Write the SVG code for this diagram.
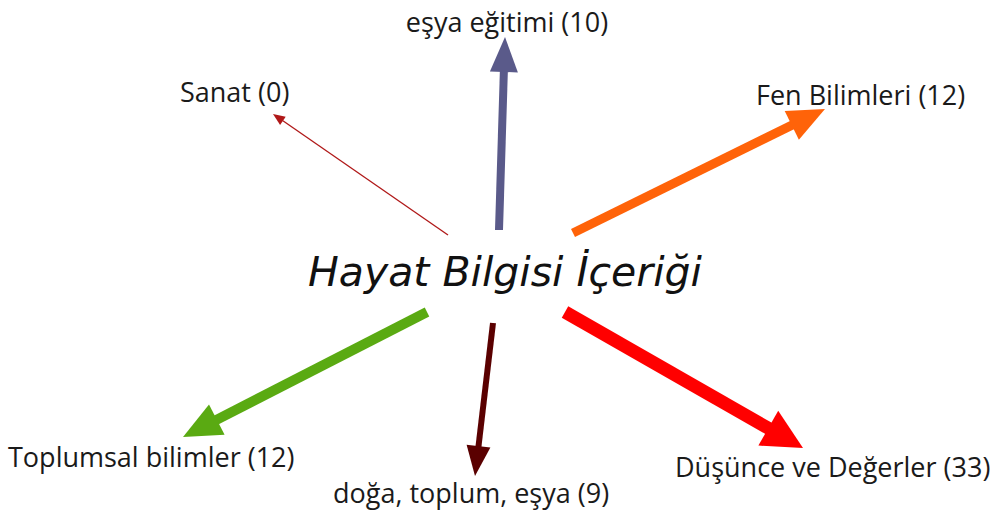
<svg xmlns="http://www.w3.org/2000/svg" width="993" height="516" viewBox="0 0 993 516">
<style>
.lbl{font-family:"Open Sans","Noto Sans",sans-serif;font-size:27px;fill:#1a1a1a}
.title{font-family:"DejaVu Sans","Noto Sans",sans-serif;font-style:italic;font-size:40px;fill:#111}
</style>
<rect width="993" height="516" fill="#ffffff"/>
<g id="connectors">
  <g id="arrow-sanat" fill="#b01818">
    <line x1="448" y1="235" x2="282.9" y2="120.8" stroke="#b01818" stroke-width="1.3"/>
    <polygon points="273,114 285.7,116.7 280.1,124.9"/>
  </g>
  <g id="arrow-esya" fill="#5a5a8a">
    <line x1="499" y1="230" x2="503.9" y2="70" stroke="#5a5a8a" stroke-width="8"/>
    <polygon points="505,37 517.9,72.4 489.9,71.6"/>
  </g>
  <g id="arrow-fen" fill="#ff6309">
    <line x1="573" y1="233" x2="793" y2="124.6" stroke="#ff6309" stroke-width="9"/>
    <polygon points="825,109 798.9,139.7 784.7,111"/>
  </g>
  <g id="arrow-toplumsal" fill="#5aaa12">
    <line x1="427" y1="312" x2="215" y2="420.6" stroke="#5aaa12" stroke-width="10"/>
    <polygon points="183,437 224.6,434.8 209,404.6"/>
  </g>
  <g id="arrow-doga" fill="#5a0000">
    <line x1="493" y1="323" x2="478.3" y2="448" stroke="#5a0000" stroke-width="6"/>
    <polygon points="475,476 490.4,447.6 466.6,444.8"/>
  </g>
  <g id="arrow-dusunce" fill="#ff0000">
    <line x1="565" y1="312" x2="770" y2="429.2" stroke="#ff0000" stroke-width="13"/>
    <polygon points="803,448 758.4,445.6 778.2,410.8"/>
  </g>
</g>
<g id="node-center"><text class="title" x="505" y="286" text-anchor="middle" textLength="394" lengthAdjust="spacingAndGlyphs">Hayat Bilgisi İçeriği</text></g>
<g id="node-esya"><text class="lbl" x="507" y="32" text-anchor="middle">eşya eğitimi (10)</text></g>
<g id="node-sanat"><text class="lbl" x="180" y="102">Sanat (0)</text></g>
<g id="node-fen"><text class="lbl" x="756" y="105">Fen Bilimleri (12)</text></g>
<g id="node-toplumsal"><text class="lbl" x="8" y="467">Toplumsal bilimler (12)</text></g>
<g id="node-doga"><text class="lbl" x="333" y="503">doğa, toplum, eşya (9)</text></g>
<g id="node-dusunce"><text class="lbl" x="675" y="477">Düşünce ve Değerler (33)</text></g>
</svg>
